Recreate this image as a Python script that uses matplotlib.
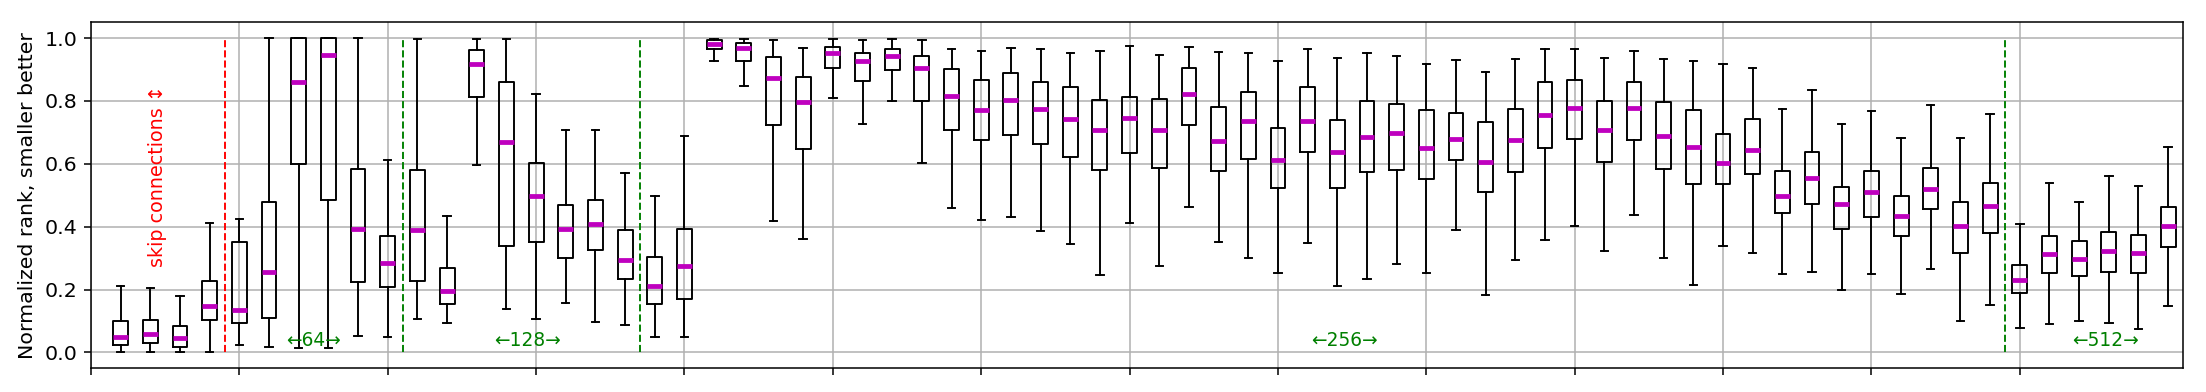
import matplotlib
matplotlib.use("Agg")
import matplotlib.pyplot as plt

# Box statistics per configuration
whislo = [0.000, 0.000, 0.000, 0.000, 0.024, 0.016, 0.015, 0.015, 0.051, 0.049,
          0.105, 0.095, 0.596, 0.138, 0.106, 0.157, 0.097, 0.086, 0.049, 0.048,
          0.926, 0.846, 0.417, 0.361, 0.810, 0.726, 0.800, 0.604, 0.458, 0.420,
          0.432, 0.386, 0.345, 0.245, 0.411, 0.276, 0.461, 0.351, 0.300, 0.251,
          0.347, 0.211, 0.234, 0.280, 0.253, 0.388, 0.182, 0.293, 0.356, 0.401,
          0.321, 0.436, 0.299, 0.214, 0.340, 0.316, 0.250, 0.256, 0.197, 0.248,
          0.185, 0.266, 0.099, 0.150, 0.077, 0.089, 0.100, 0.093, 0.073, 0.147]
q1 = [0.022, 0.030, 0.018, 0.102, 0.095, 0.108, 0.600, 0.485, 0.225, 0.207,
      0.228, 0.153, 0.814, 0.339, 0.352, 0.300, 0.326, 0.234, 0.153, 0.170,
      0.964, 0.928, 0.724, 0.647, 0.905, 0.862, 0.898, 0.801, 0.708, 0.677,
      0.690, 0.662, 0.621, 0.579, 0.634, 0.587, 0.723, 0.578, 0.615, 0.522,
      0.637, 0.522, 0.574, 0.580, 0.552, 0.612, 0.509, 0.574, 0.650, 0.678,
      0.607, 0.676, 0.584, 0.536, 0.536, 0.568, 0.443, 0.472, 0.393, 0.432,
      0.370, 0.456, 0.317, 0.381, 0.189, 0.253, 0.244, 0.255, 0.251, 0.336]
med = [0.048, 0.058, 0.046, 0.147, 0.136, 0.255, 0.860, 0.945, 0.391, 0.283,
       0.388, 0.196, 0.917, 0.670, 0.497, 0.391, 0.407, 0.294, 0.210, 0.275,
       0.982, 0.968, 0.873, 0.795, 0.952, 0.928, 0.944, 0.904, 0.817, 0.771,
       0.802, 0.775, 0.741, 0.706, 0.746, 0.709, 0.823, 0.674, 0.736, 0.612,
       0.737, 0.639, 0.686, 0.697, 0.651, 0.680, 0.607, 0.676, 0.756, 0.777,
       0.706, 0.776, 0.689, 0.654, 0.604, 0.645, 0.499, 0.555, 0.471, 0.509,
       0.435, 0.520, 0.401, 0.467, 0.229, 0.313, 0.297, 0.323, 0.317, 0.401]
q3 = [0.101, 0.102, 0.083, 0.226, 0.351, 0.477, 1.000, 1.000, 0.584, 0.371,
      0.580, 0.269, 0.961, 0.859, 0.604, 0.468, 0.484, 0.390, 0.303, 0.392,
      0.993, 0.984, 0.941, 0.876, 0.972, 0.954, 0.965, 0.942, 0.901, 0.867,
      0.890, 0.861, 0.844, 0.804, 0.813, 0.806, 0.906, 0.782, 0.827, 0.715,
      0.845, 0.740, 0.801, 0.791, 0.772, 0.761, 0.732, 0.774, 0.859, 0.866,
      0.799, 0.859, 0.796, 0.772, 0.694, 0.741, 0.577, 0.636, 0.526, 0.578,
      0.496, 0.587, 0.480, 0.539, 0.278, 0.371, 0.354, 0.382, 0.372, 0.464]
whishi = [0.211, 0.204, 0.179, 0.411, 0.425, 1.000, 1.000, 1.000, 1.000, 0.611,
          0.996, 0.435, 0.996, 0.997, 0.823, 0.707, 0.708, 0.570, 0.497, 0.688,
          0.997, 0.997, 0.994, 0.967, 0.996, 0.994, 0.996, 0.993, 0.966, 0.958,
          0.969, 0.965, 0.954, 0.959, 0.975, 0.945, 0.972, 0.957, 0.952, 0.926,
          0.965, 0.936, 0.952, 0.944, 0.919, 0.930, 0.893, 0.932, 0.964, 0.965,
          0.937, 0.960, 0.934, 0.927, 0.918, 0.906, 0.774, 0.836, 0.725, 0.769,
          0.681, 0.787, 0.683, 0.759, 0.409, 0.539, 0.478, 0.560, 0.530, 0.653]

# group separators and labels
red_sep = 4.5
green_seps = [10.5, 18.5, 64.5]
group_labels = ["←64→", "←128→", "←256→", "←512→"]
group_label_x = [7.5, 14.7, 42.25, 67.9]

stats = []
for i in range(len(med)):
    stats.append({"whislo": whislo[i], "q1": q1[i], "med": med[i],
                  "q3": q3[i], "whishi": whishi[i], "fliers": []})

fig = plt.figure(figsize=(2206 / 138, 392 / 138), dpi=138)
ax = fig.add_axes([91 / 2206, 0.061, (2183 - 91) / 2206, 0.882])

ax.bxp(stats, positions=range(1, len(stats) + 1), widths=0.5,
       medianprops=dict(color="m", linewidth=2.5))

ax.vlines(red_sep, 0, 1, colors="r", linestyles="--", linewidth=1)
ax.vlines(green_seps, 0, 1, colors="g", linestyles="--", linewidth=1)
ax.text(2.25, 0.56, "skip connections ↕", color="r", rotation=90,
        ha="center", va="center", fontsize=10)
for x, lab in zip(group_label_x, group_labels):
    ax.text(x, 0.037, lab, color="g", ha="center", va="center", fontsize=9.7)

ax.set_xlim(0, 70.5)
ax.set_ylim(-0.05, 1.05)
ax.set_xticks(range(0, 70, 5))
ax.set_xticklabels([])
ax.tick_params(axis="y", labelsize=10.7)
ax.grid(True)
ax.set_ylabel("Normalized rank, smaller better", fontsize=10.7)

fig.savefig("out.png", dpi=138)
